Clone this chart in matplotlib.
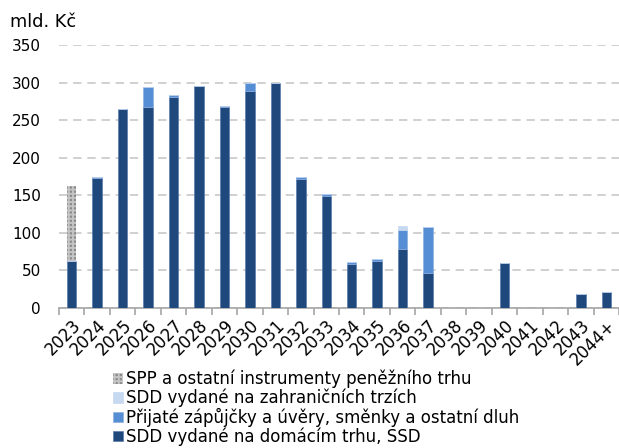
import matplotlib
matplotlib.use("Agg")
import matplotlib.pyplot as plt
import numpy as np

plt.rcParams['font.family'] = ['DejaVu Sans']
plt.rcParams['hatch.linewidth'] = 1.4

years = ["2023", "2024", "2025", "2026", "2027", "2028", "2029", "2030", "2031",
         "2032", "2033", "2034", "2035", "2036", "2037", "2038", "2039", "2040",
         "2041", "2042", "2043", "2044+"]
ssd_domestic = [63, 173, 265, 267, 281, 296, 268, 289, 300, 172, 149, 58, 63, 79, 47,
                0, 0, 60, 0, 0, 19, 21]
loans = [0, 1, 0, 27, 2, 0, 1, 10, 0, 2, 3, 3, 2, 25, 61, 0, 0, 0, 0, 0, 0, 0]
sdd_foreign = [0, 0, 0, 0, 0, 0, 0, 0, 0, 0, 0, 0, 0, 5, 0, 0, 0, 0, 0, 0, 0, 0]
spp = [100, 0, 0, 0, 0, 0, 0, 0, 0, 0, 0, 0, 0, 0, 0, 0, 0, 0, 0, 0, 0, 0]

labels = {
    "spp": "SPP a ostatní instrumenty peněžního trhu",
    "foreign": "SDD vydané na zahraničních trzích",
    "loans": "Přijaté zápůjčky a úvěry, směnky a ostatní dluh",
    "ssd": "SDD vydané na domácím trhu, SSD",
}
c_ssd = "#1f497d"
c_loans = "#558ed5"
c_foreign = "#c6d9f1"

fig = plt.figure(figsize=(6.19, 4.48), dpi=100)
ax = fig.add_axes([59/619, 1 - 308/448, 560/619, (308 - 45)/448])

x = np.arange(len(years))
w = 0.37
b1 = np.array(ssd_domestic, float)
b2 = b1 + np.array(loans, float)
b3 = b2 + np.array(sdd_foreign, float)

h_ssd = ax.bar(x, ssd_domestic, w, color=c_ssd, edgecolor="#5a7cad", linewidth=0.5, zorder=3)
h_loans = ax.bar(x, loans, w, bottom=b1, color=c_loans, edgecolor="#8fb0e0", linewidth=0.5, zorder=3)
h_for = ax.bar(x, sdd_foreign, w, bottom=b2, color=c_foreign, edgecolor=c_foreign, linewidth=0.5, zorder=3)
h_spp = ax.bar(x, spp, w, bottom=b3, color="#8a8a8a", edgecolor="#c4c4c4", hatch="++++",
               linewidth=0, zorder=3)

ax.set_ylim(0, 350)
ax.set_xlim(-0.5, len(years) - 0.5)
ax.set_yticks(np.arange(0, 351, 50))
ax.yaxis.grid(True, color="#c8c8c8", linestyle=(0, (5, 3.5)), linewidth=1.2, zorder=0)
ax.tick_params(axis="y", length=0, labelsize=11, pad=13, colors="black")
for s in ["top", "right", "left"]:
    ax.spines[s].set_visible(False)
ax.spines["bottom"].set_color("#a6a6a6")
ax.spines["bottom"].set_linewidth(1.2)

ax.set_xticks(x)
ax.set_xticklabels(years, rotation=45, ha="right", rotation_mode="anchor", fontsize=12)
ax.tick_params(axis="x", length=0, pad=6)
ax.set_xticks(np.arange(-0.5, len(years), 1), minor=True)
ax.tick_params(axis="x", which="minor", length=5, color="#a6a6a6", width=1.2, direction="out")

fig.text(10/619, 1 - 22/448, "mld. Kč", fontsize=12.8, va="center", ha="left")

leg = fig.legend([h_spp, h_for, h_loans, h_ssd],
                 [labels["spp"], labels["foreign"], labels["loans"], labels["ssd"]],
                 loc="upper left", bbox_to_anchor=(113/619, 1 - 370/448), frameon=False,
                 fontsize=12.0, handlelength=0.58, handleheight=0.58, handletextpad=0.22,
                 labelspacing=0.02, borderaxespad=0, borderpad=0)

fig.savefig("out.png", dpi=100)
